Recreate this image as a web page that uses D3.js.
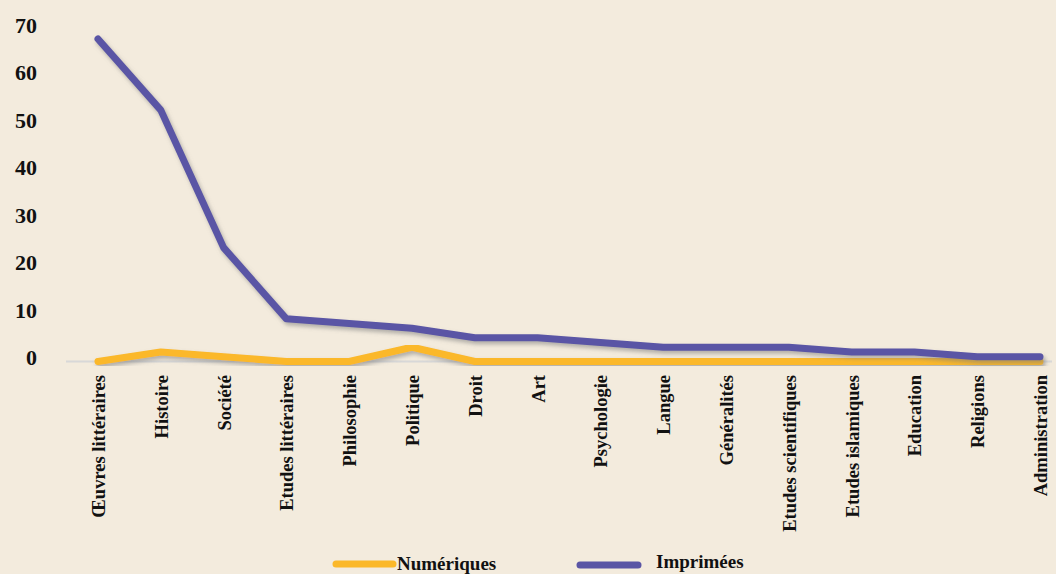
<!DOCTYPE html>
<html><head><meta charset="utf-8">
<script src="https://cdn.jsdelivr.net/npm/d3@7"></script>
<style>
html,body{margin:0;padding:0;background:#f3ebdd;}
svg{display:block;}
text{font-family:"Liberation Serif","Times New Roman",serif;font-weight:bold;fill:#111;}
</style></head>
<body>
<svg id="chart" width="1056" height="574"></svg>
<script>
const categories = ["Œuvres littéraires","Histoire","Société","Etudes littéraires","Philosophie","Politique","Droit","Art","Psychologie","Langue","Généralités","Etudes scientifiques","Etudes islamiques","Education","Religions","Administration"];
const numeriques = [0,2,1,0,0,3,0,0,0,0,0,0,0,0,0,0];
const imprimees  = [68,53,24,9,8,7,5,5,4,3,3,3,2,2,1,1];
const yTicks = [0,10,20,30,40,50,60,70];
const seriesNames = ["Numériques","Imprimées"];
const colors = ["#fbb829","#5a55a5"];

const svg = d3.select("#chart");
const defs = svg.append("defs");
const f = defs.append("filter").attr("id","shadow").attr("x","-10%").attr("y","-10%").attr("width","130%").attr("height","140%");
f.append("feDropShadow").attr("dx",2).attr("dy",3).attr("stdDeviation",2).attr("flood-color","#7a7a7a").attr("flood-opacity",0.55);

const x = d3.scalePoint().domain(categories).range([98,1040]);
const y = d3.scaleLinear().domain([0,70]).range([361.5,29.5]);

// zero gridline
svg.append("line").attr("x1",66).attr("x2",1052).attr("y1",y(0)).attr("y2",y(0))
  .attr("stroke","#d8d8d8").attr("stroke-width",2);

// y axis labels
const yAxis = d3.axisLeft(y).tickValues(yTicks).tickSize(0).tickPadding(0);
const yg = svg.append("g").attr("transform","translate(37,-4)").call(yAxis);
yg.select(".domain").remove();
yg.selectAll("text").style("font-size","22px").attr("fill","#111");

// x axis labels
const xAxis = d3.axisBottom(x).tickSize(0);
const xg = svg.append("g").attr("transform","translate(0,374)").call(xAxis);
xg.select(".domain").remove();
xg.selectAll("text").style("font-size","18.5px").attr("fill","#111")
  .attr("transform","rotate(-90)").attr("text-anchor","end")
  .attr("x",-1).attr("y",0).attr("dy","0.35em");

const line = d3.line().x((d,i)=>x(categories[i])).y(d=>y(d));
[numeriques, imprimees].forEach((s,k)=>{
  svg.append("path").datum(s).attr("d",line).attr("fill","none")
    .attr("stroke",colors[k]).attr("stroke-width",7)
    .attr("stroke-linejoin","round").attr("stroke-linecap","round")
    .attr("filter","url(#shadow)");
});

// legend
const leg = [{x1:336,x2:393,tx:397,ty:569.5,ly:564},{x1:580,x2:638,tx:656,ty:568,ly:565}];
leg.forEach((l,k)=>{
  svg.append("line").attr("x1",l.x1).attr("x2",l.x2).attr("y1",l.ly).attr("y2",l.ly)
    .attr("stroke",colors[k]).attr("stroke-width",7).attr("stroke-linecap","round");
  svg.append("text").attr("x",l.tx).attr("y",l.ty).style("font-size","19px").text(seriesNames[k]);
});
</script>
</body></html>
